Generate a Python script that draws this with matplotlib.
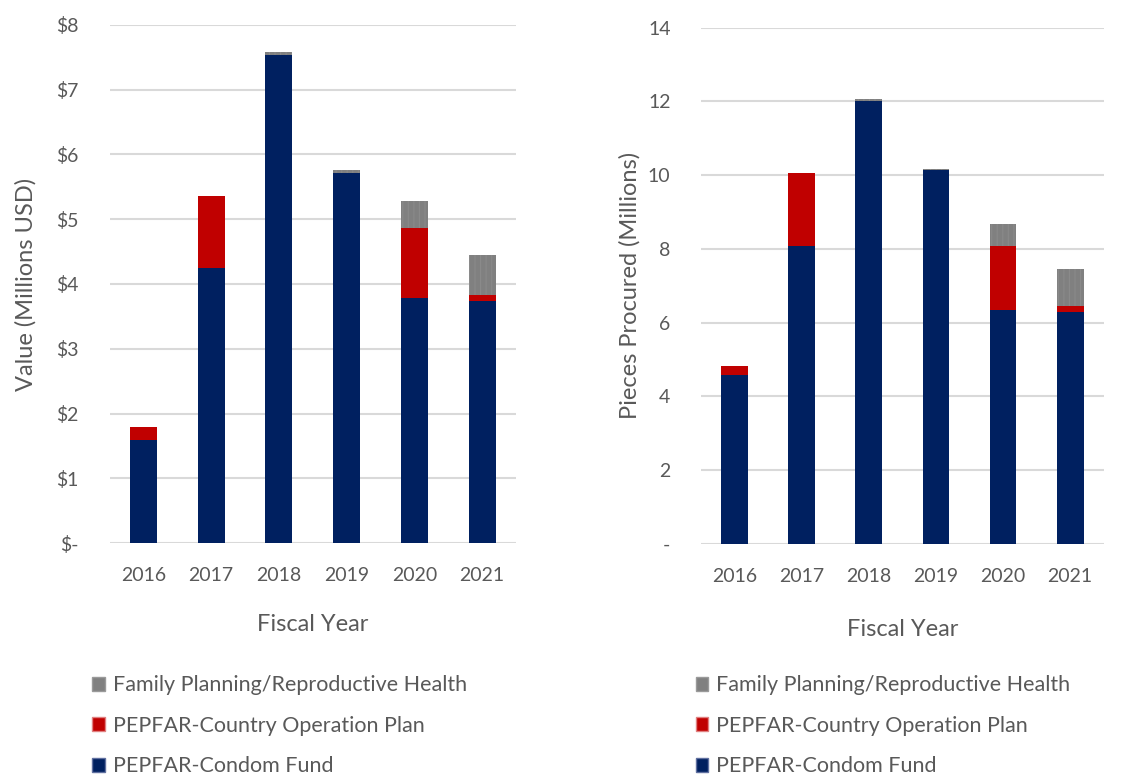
import matplotlib
matplotlib.use("Agg")
import matplotlib.pyplot as plt
from matplotlib.patches import Patch

years = ["2016", "2017", "2018", "2019", "2020", "2021"]

# Left chart: value (millions USD)
value_condom_fund = [1.59, 4.25, 7.53, 5.72, 3.79, 3.73]
value_cop = [0.20, 1.11, 0.00, 0.00, 1.07, 0.10]
value_fprh = [0.00, 0.00, 0.05, 0.04, 0.42, 0.61]
value_ticks = [0, 1, 2, 3, 4, 5, 6, 7, 8]
value_ticklabels = ["$-", "$1", "$2", "$3", "$4", "$5", "$6", "$7", "$8"]

# Right chart: pieces procured (millions)
pieces_condom_fund = [4.59, 8.08, 12.02, 10.14, 6.34, 6.30]
pieces_cop = [0.24, 1.99, 0.00, 0.00, 1.74, 0.15]
pieces_fprh = [0.00, 0.00, 0.05, 0.03, 0.59, 1.00]
pieces_ticks = [0, 2, 4, 6, 8, 10, 12, 14]
pieces_ticklabels = ["-", "2", "4", "6", "8", "10", "12", "14"]

series_names = ["Family Planning/Reproductive Health",
                "PEPFAR-Country Operation Plan",
                "PEPFAR-Condom Fund"]
NAVY = "#002060"
RED = "#C00000"
GRAY = "#808080"
TXT = "#595959"

plt.rcParams["font.family"] = ["Lato", "DejaVu Sans"]
plt.rcParams["hatch.color"] = "#6a6a6a"
plt.rcParams["hatch.linewidth"] = 0.8

fig = plt.figure(figsize=(11.28, 7.78), dpi=100)
ax1 = fig.add_axes([0.0971, 0.302, 0.3604, 0.666])
ax2 = fig.add_axes([0.6215, 0.3008, 0.357, 0.6636])


def draw(ax, cf, cop, fp, ticks, ticklabels, ylabel, ymax, xlabpad, ylabpad):
    x = range(len(years))
    w = 0.4
    ax.bar(x, cf, w, color=NAVY, zorder=3)
    b2 = [a for a in cf]
    ax.bar(x, cop, w, bottom=b2, color=RED, zorder=3)
    b3 = [a + b for a, b in zip(cf, cop)]
    ax.bar(x, fp, w, bottom=b3, color=GRAY, hatch="|||", edgecolor="#8a8a8a",
           linewidth=0, zorder=3)
    ax.set_xlim(-0.5, len(years) - 0.5)
    ax.set_ylim(0, ymax)
    ax.set_yticks(ticks)
    ax.set_yticklabels(ticklabels)
    ax.set_xticks(list(x))
    ax.set_xticklabels(years)
    ax.grid(axis="y", color="#d9d9d9", linewidth=1.5, zorder=0)
    for s in ax.spines.values():
        s.set_visible(False)
    ax.tick_params(axis="both", length=0, labelsize=14, colors=TXT)
    ax.tick_params(axis="x", pad=17)
    ax.tick_params(axis="y", pad=22)
    ax.set_xlabel("Fiscal Year", fontsize=17, color=TXT, labelpad=xlabpad)
    ax.set_ylabel(ylabel, fontsize=17, color=TXT, labelpad=ylabpad)


draw(ax1, value_condom_fund, value_cop, value_fprh, value_ticks,
     value_ticklabels, "Value (Millions USD)", 8, 22, 14)
draw(ax2, pieces_condom_fund, pieces_cop, pieces_fprh, pieces_ticks,
     pieces_ticklabels, "Pieces Procured (Millions)", 14, 25, 5)

handles = [Patch(facecolor=GRAY, edgecolor="#9a9a9a", label=series_names[0]),
           Patch(facecolor=RED, edgecolor="#e08080", label=series_names[1]),
           Patch(facecolor=NAVY, edgecolor="#6070a0", label=series_names[2])]

for xpos in (0.074, 0.609):
    fig.legend(handles=handles, loc="upper left", bbox_to_anchor=(xpos, 0.143),
               frameon=False, fontsize=15.5, labelcolor=TXT, handlelength=0.6,
               handleheight=0.6, handletextpad=0.35, labelspacing=0.95,
               borderaxespad=0)

fig.savefig("out.png", dpi=100)
